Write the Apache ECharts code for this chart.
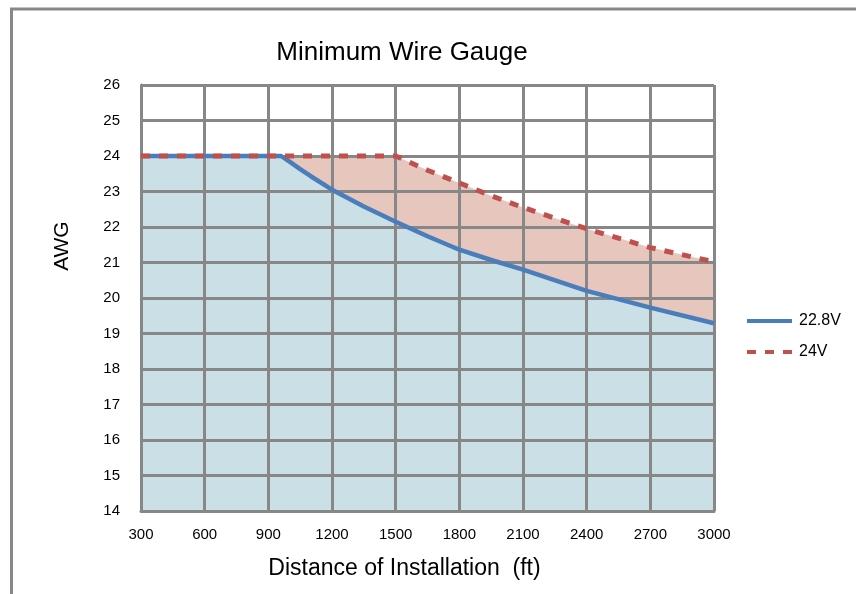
<!DOCTYPE html>
<html>
<head>
<meta charset="utf-8">
<script src="https://cdn.jsdelivr.net/npm/echarts@6/dist/echarts.min.js"></script>
<style>
html,body{margin:0;padding:0;background:#fff;}
#main{width:856px;height:594px;}
</style>
</head>
<body>
<div id="main"></div>
<script>
// Distance (ft) and AWG values
var xTicks = [300, 600, 900, 1200, 1500, 1800, 2100, 2400, 2700, 3000];
var dist228 = [300, 600, 900, 960, 1000, 1050, 1100, 1200, 1350, 1500, 1650, 1800, 1950, 2100, 2400, 2700, 3000];
var awg228  = [24, 24, 24, 24, 23.84, 23.63, 23.43, 23.05, 22.58, 22.15, 21.74, 21.36, 21.07, 20.8, 20.2, 19.73, 19.29];
var dist24  = [300, 600, 900, 1200, 1500, 1650, 1800, 1950, 2100, 2400, 2700, 3000];
var awg24   = [24, 24, 24, 24, 24, 23.6, 23.24, 22.88, 22.55, 21.95, 21.42, 21.02];
var seriesNames = ['22.8V', '24V'];
var title = 'Minimum Wire Gauge';
var xName = 'Distance of Installation  (ft)';
var yName = 'AWG';

function pairs(xs, ys){ return xs.map(function(x,i){ return [x, ys[i]]; }); }

var chart = echarts.init(document.getElementById('main'), null, {renderer:'canvas'});
var font = 'Liberation Sans, Arial, sans-serif';
var grid = '#878787';
var option = {
  animation:false,
  backgroundColor:'#fff',
  graphic:[{
    type:'polyline', silent:true,
    shape:{points:[[11.5,600],[11.5,9],[900,9]]},
    style:{stroke:'#888', lineWidth:3, fill:null}
  },{
    type:'text', silent:true, x:62, y:246, rotation:Math.PI/2,
    style:{text:yName, fontFamily:font, fontSize:21, fill:'#000', align:'center', verticalAlign:'middle'}
  }],
  title:{text:title, left:397, top:35, textAlign:'center',
    textStyle:{fontFamily:font, fontSize:26, fontWeight:'normal', color:'#000'}},
  legend:{
    orient:'vertical', left:742, top:308, itemGap:15, itemWidth:45, itemHeight:4,
    data:[
      {name:seriesNames[0], icon:'path://M0,0h45v4h-45z'},
      {name:seriesNames[1], icon:'path://M0,0h9v4h-9zM18,0h9v4h-9zM36,0h9v4h-9z'}
    ],
    textStyle:{fontFamily:font, fontSize:16, color:'#000', padding:[0,0,0,2]}
  },
  grid:{left:141, right:142, top:85, bottom:83, containLabel:false},
  xAxis:{
    type:'value', min:300, max:3000, interval:300, z:3,
    name:xName, nameLocation:'middle', nameGap:46,
    nameTextStyle:{fontFamily:font, fontSize:23, color:'#000', padding:[0,46,0,0]},
    axisLine:{show:true, lineStyle:{color:grid, width:3}},
    axisTick:{show:false},
    axisLabel:{fontFamily:font, fontSize:15, color:'#000', margin:16, formatter:function(v){return String(v);}},
    splitLine:{show:true, lineStyle:{color:grid, width:3}}
  },
  yAxis:{
    type:'value', min:14, max:26, interval:1, z:3,
    axisLine:{show:true, lineStyle:{color:grid, width:3}},
    axisTick:{show:false},
    axisLabel:{fontFamily:font, fontSize:15, color:'#000', margin:21},
    splitLine:{show:true, lineStyle:{color:grid, width:3}}
  },
  series:[
    {name:'24V area', type:'line', data:pairs(dist24, awg24), showSymbol:false, symbol:'none', silent:true,
     lineStyle:{width:0}, areaStyle:{color:'#e6c6bd', opacity:1, origin:'start'}, z:1},
    {name:'22.8V area', type:'line', data:pairs(dist228, awg228), showSymbol:false, symbol:'none', silent:true,
     lineStyle:{width:0}, areaStyle:{color:'#cbdfe7', opacity:1, origin:'start'}, z:2},
    {name:seriesNames[0], type:'line', data:pairs(dist228, awg228), showSymbol:false, symbol:'none',
     itemStyle:{color:'#4a7ebb'}, lineStyle:{color:'#4a7ebb', width:4.5, join:'round'}, z:5},
    {name:seriesNames[1], type:'line', data:pairs(dist24, awg24), showSymbol:false, symbol:'none',
     itemStyle:{color:'#c0504d'}, lineStyle:{color:'#c0504d', width:5, type:[9,9]}, z:6}
  ]
};
chart.setOption(option);
</script>
</body>
</html>
